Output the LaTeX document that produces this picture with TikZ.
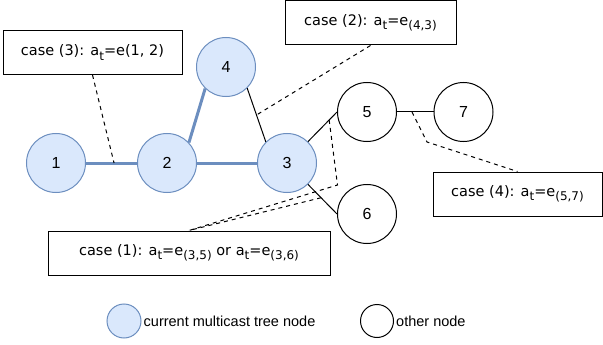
\documentclass[tikz,border=0pt]{standalone}
\usepackage{fontspec}
\setmainfont{Liberation Sans}
\newfontfamily\casefont{DejaVu Sans}
\definecolor{treefill}{HTML}{DAE8FC}
\definecolor{treeline}{HTML}{6C8EBF}
\newcommand\mysub[1]{\raisebox{-0.3em}{\fontsize{12}{14}\selectfont #1}}
\begin{document}
\begin{tikzpicture}[x=1pt,y=-1pt,
  treenode/.style={circle,draw=treeline,fill=treefill,line width=1pt,minimum size=59pt,inner sep=0pt,font=\fontsize{16}{18}\selectfont},
  othernode/.style={circle,draw=black,fill=white,line width=1pt,minimum size=59pt,inner sep=0pt,font=\fontsize{16}{18}\selectfont},
  treeedge/.style={draw=treeline,line width=3pt},
  plainedge/.style={draw=black,line width=1pt},
  casebox/.style={draw=black,fill=white,line width=1pt,minimum height=44pt,inner sep=0pt,font=\casefont\fontsize{14.5}{17}\selectfont},
  callout/.style={draw=black,line width=1pt,dash pattern=on 4pt off 4pt},
  legtext/.style={anchor=west,inner sep=2pt,font=\fontsize{14.5}{17}\selectfont}]
\useasboundingbox (0,0) rectangle (603,345);

% nodes
\node[treenode] (n1) at (56,163) {1};
\node[treenode] (n2) at (167,163) {2};
\node[treenode] (n3) at (287,163) {3};
\node[treenode] (n4) at (226,67) {4};
\node[othernode] (n5) at (367,112) {5};
\node[othernode] (n7) at (463.5,112) {7};
\node[othernode] (n6) at (367,214) {6};

% edges
\draw[treeedge] (n1) -- coordinate[pos=0.55] (m12) (n2);
\draw[treeedge] (n2) -- (n3);
\draw[treeedge] (n2.43) -- (n4.226);
\draw[plainedge] (n4.-45) -- coordinate[pos=0.5] (m43) (n3.135);
\draw[plainedge] (n3) -- coordinate[pos=0.73] (m35) (n5.west);
\draw[plainedge] (n3) -- coordinate[pos=0.45] (m36) (n6.west);
\draw[plainedge] (n5) -- coordinate[pos=0.41] (m57) (n7);

% case boxes
\node[casebox,minimum width=179pt] (c3) at (92.5,52.5) {case (3): a\mysub{t}=e(1, 2)};
\node[casebox,minimum width=171pt] (c2) at (370.5,23) {case (2): a\mysub{t}=e\mysub{(4,3)}};
\node[casebox,minimum width=169pt] (c4) at (517.5,194) {case (4): a\mysub{t}=e\mysub{(5,7)}};
\node[casebox,minimum width=282pt] (c1) at (189,253) {case (1): a\mysub{t}=e\mysub{(3,5)} or a\mysub{t}=e\mysub{(3,6)}};

% callouts
\coordinate (b4) at (427,142);
\coordinate (b1) at (337.5,185);
\draw[callout] (c3.south) -- (m12);
\draw[callout] (c2.south) -- (m43);
\draw[callout] (m57) -- (b4) -- (c4.north);
\draw[callout] (m35) -- (b1) -- (c1.north);
\draw[callout] (m36) -- (c1.north);

% legend
\node[treenode,minimum size=34pt] (l1) at (124,321) {};
\node[legtext] (t1) at (l1.east) {current multicast tree node};
\node[othernode,minimum size=33pt] (l2) at (377,321) {};
\node[legtext] (t2) at (l2.east) {other node};
\end{tikzpicture}
\end{document}
